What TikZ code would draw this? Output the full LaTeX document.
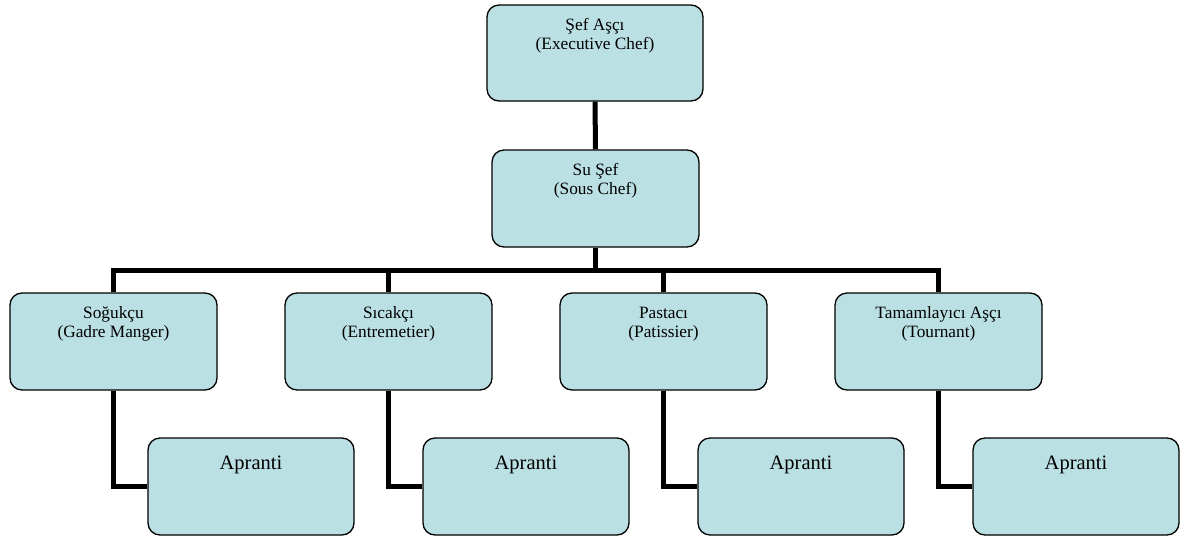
\documentclass[tikz,border=0pt]{standalone}
\usepackage{fontspec}
\setmainfont{Liberation Serif}
\definecolor{boxfill}{RGB}{187,224,227}
\tikzset{
  orgbox/.style={draw=black, line width=1.3pt, fill=boxfill, rounded corners=12pt,
    minimum height=97pt, inner sep=0pt},
  wide/.style={minimum width=207pt},
  lbl/.style={anchor=north, inner sep=0pt, align=center, font=\fontsize{17.3}{19.5}\selectfont},
  biglbl/.style={anchor=north, inner sep=0pt, font=\fontsize{20.5}{23}\selectfont},
  conn/.style={line width=5pt, draw=black},
}
\begin{document}
\begin{tikzpicture}[x=1pt,y=-1pt]
\useasboundingbox (0,0) rectangle (1186,536);
% boxes
\node[orgbox, minimum width=216pt, minimum height=96pt] (exec) at (595,53) {};
\node[orgbox, wide] (sous) at (595.5,198.5) {};
\node[orgbox, wide] (c1) at (113.5,341.5) {};
\node[orgbox, wide] (c2) at (388.5,341.5) {};
\node[orgbox, wide] (c3) at (663.5,341.5) {};
\node[orgbox, wide] (c4) at (938.5,341.5) {};
\node[orgbox, minimum width=206pt] (a1) at (251,486.5) {};
\node[orgbox, minimum width=206pt] (a2) at (526,486.5) {};
\node[orgbox, minimum width=206pt] (a3) at (801,486.5) {};
\node[orgbox, minimum width=206pt] (a4) at (1076,486.5) {};
% texts
\node[lbl, yshift=-12pt] (t0) at (exec.north) {\strut Şef Aşçı\\(Executive Chef)};
\node[lbl, yshift=-12pt] (t1) at (sous.north) {\strut Su Şef\\(Sous Chef)};
\node[lbl, yshift=-12pt] (t2) at (c1.north) {\strut Soğukçu\\(Gadre Manger)};
\node[lbl, yshift=-12pt] (t3) at (c2.north) {\strut Sıcakçı\\(Entremetier)};
\node[lbl, yshift=-12pt] (t4) at (c3.north) {\strut Pastacı\\(Patissier)};
\node[lbl, yshift=-12pt] (t5) at (c4.north) {\strut Tamamlayıcı Aşçı\\(Tournant)};
\node[biglbl, yshift=-18pt] (ta1) at (a1.north) {Apranti};
\node[biglbl, yshift=-18pt] (ta2) at (a2.north) {Apranti};
\node[biglbl, yshift=-18pt] (ta3) at (a3.north) {Apranti};
\node[biglbl, yshift=-18pt] (ta4) at (a4.north) {Apranti};
% connectors
\coordinate (bar) at (595,270);
\draw[conn] (exec.south) -- (sous.north);
\draw[conn] (sous.south) -- (sous.south |- bar);
\draw[conn] (c1.north) -- (c1.north |- bar) -- (c4.north |- bar) -- (c4.north);
\draw[conn] (c2.north |- bar) -- (c2.north);
\draw[conn] (c3.north |- bar) -- (c3.north);
\draw[conn] (c1.south) |- (a1.west);
\draw[conn] (c2.south) |- (a2.west);
\draw[conn] (c3.south) |- (a3.west);
\draw[conn] (c4.south) |- (a4.west);
\end{tikzpicture}
\end{document}
